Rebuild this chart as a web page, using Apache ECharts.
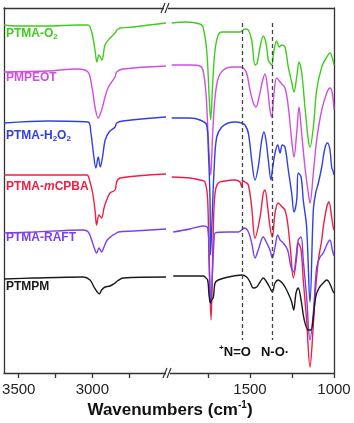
<!DOCTYPE html>
<html>
<head>
<meta charset="utf-8">
<script src="https://cdn.jsdelivr.net/npm/echarts@6/dist/echarts.min.js"></script>
<style>
  html, body { margin: 0; padding: 0; background: #fff; }
  #chart { width: 354px; height: 423px; }
</style>
</head>
<body>
<div id="chart"></div>
<script>
// offset transmittance (a.u.), curves stacked as in the figure
// high = 3600-2500 cm-1 segment, low = 2000-1000 cm-1 segment
var o2High = [[3600,348],[3520,347],[3300,347],[3100,348],[3030,348],[3003,340],[2982,323],[2969,311],[2955,318],[2935,313],[2914,328],[2880,335],[2846,340],[2833,343],[2812,345],[2724,346],[2500,350]];
var o2Low = [[1966,350],[1877,351],[1798,349],[1780,346],[1758,323],[1742,273],[1734,253],[1722,290],[1708,323],[1689,338],[1668,341],[1619,341],[1560,341],[1530,344],[1510,343],[1490,333],[1470,308],[1457,310],[1440,326],[1421,337],[1405,330],[1391,313],[1381,310],[1371,308],[1357,323],[1341,332],[1326,326],[1311,328],[1292,326],[1272,306],[1252,291],[1238,281],[1222,296],[1208,311],[1192,300],[1173,266],[1153,233],[1143,226],[1123,246],[1103,283],[1073,306],[1043,316],[1024,320],[1010,315],[1000,308]];

var pmpeotHigh = [[3600,301],[3300,302],[3100,304],[3030,301],[3003,286],[2982,266],[2960,255],[2937,263],[2914,276],[2894,285],[2869,291],[2846,296],[2835,301],[2792,304],[2500,307]];
var pmpeotLow = [[1966,308],[1857,308],[1798,307],[1780,303],[1762,280],[1748,233],[1734,198],[1722,240],[1708,276],[1689,295],[1659,303],[1609,306],[1560,306],[1540,305],[1520,300],[1500,283],[1480,270],[1464,266],[1450,273],[1424,293],[1411,299],[1396,286],[1381,263],[1371,256],[1357,280],[1341,295],[1321,291],[1292,285],[1272,266],[1252,233],[1238,216],[1222,240],[1208,266],[1196,246],[1173,206],[1153,180],[1143,170],[1123,200],[1103,233],[1073,263],[1043,280],[1024,285],[1010,280],[1000,263]];

var h2o2High = [[3600,250],[3300,252],[3030,251],[3010,240],[2993,220],[2976,205],[2960,216],[2946,206],[2931,216],[2913,233],[2886,241],[2846,246],[2835,250],[2792,252],[2500,256]];
var h2o2Low = [[1966,255],[1857,255],[1798,253],[1758,248],[1748,223],[1738,173],[1735,118],[1726,153],[1713,206],[1698,236],[1668,246],[1629,250],[1589,251],[1549,250],[1530,248],[1510,240],[1490,213],[1470,193],[1451,206],[1430,233],[1417,241],[1405,233],[1391,213],[1375,193],[1367,203],[1351,220],[1335,228],[1321,220],[1308,228],[1292,226],[1272,203],[1252,180],[1238,161],[1222,173],[1213,200],[1196,196],[1183,173],[1163,146],[1143,71],[1123,163],[1109,180],[1093,190],[1073,206],[1054,225],[1038,230],[1024,223],[1014,206],[1004,201],[1000,198]];

var mcpbaHigh = [[3600,198],[3400,198],[3039,198],[3016,191],[2998,180],[2982,163],[2971,148],[2955,158],[2937,155],[2921,165],[2903,173],[2880,180],[2846,183],[2835,191],[2812,195],[2500,199]];
var mcpbaLow = [[1966,196],[1857,195],[1798,193],[1768,191],[1752,173],[1744,113],[1732,53],[1718,146],[1708,180],[1689,190],[1649,192],[1589,193],[1560,191],[1549,186],[1542,192],[1530,191],[1510,188],[1490,166],[1470,135],[1440,156],[1421,180],[1411,183],[1395,166],[1381,146],[1367,136],[1351,160],[1332,170],[1308,166],[1292,163],[1276,150],[1259,123],[1242,95],[1222,116],[1213,130],[1196,123],[1183,93],[1163,53],[1143,6],[1125,43],[1113,76],[1093,113],[1073,133],[1064,146],[1043,166],[1030,171],[1014,156],[1004,145],[1000,143]];

var raftHigh = [[3600,140],[3400,141],[3062,143],[3028,141],[3005,133],[2987,125],[2971,120],[2955,125],[2937,121],[2921,126],[2899,133],[2869,137],[2846,139],[2824,141],[2722,142],[2500,144]];
var raftLow = [[1957,141],[1857,144],[1778,147],[1752,145],[1744,123],[1734,68],[1723,103],[1714,133],[1708,140],[1629,141],[1570,141],[1549,143],[1536,145],[1512,142],[1490,130],[1470,115],[1451,123],[1421,136],[1401,130],[1381,123],[1367,115],[1351,126],[1335,138],[1321,133],[1302,130],[1276,123],[1256,106],[1240,101],[1226,116],[1213,133],[1196,136],[1183,113],[1163,76],[1143,33],[1123,60],[1103,106],[1083,116],[1064,120],[1038,130],[1024,133],[1010,123],[1000,117]];

var ptmpmHigh = [[3600,94],[3400,95],[3062,96],[3016,93],[2989,86],[2967,81],[2953,79],[2937,83],[2914,86],[2880,87],[2846,90],[2831,92],[2790,95],[2500,96]];
var ptmpmLow = [[1957,97],[1778,97],[1768,96],[1752,93],[1744,78],[1735,70],[1728,73],[1718,76],[1708,90],[1689,93],[1629,96],[1549,98],[1520,96],[1500,91],[1480,85],[1460,86],[1440,91],[1421,95],[1401,91],[1381,85],[1367,81],[1351,90],[1332,93],[1308,90],[1288,85],[1268,78],[1252,71],[1240,63],[1226,80],[1213,85],[1196,73],[1177,53],[1153,43],[1137,43],[1123,56],[1109,76],[1089,85],[1064,90],[1043,93],[1030,91],[1014,85],[1004,81],[1000,80]];

var highTicks = [2750, 3000, 3250, 3500];
var highLabels = [3000, 3500];
var lowTicks = [1000, 1250, 1500, 1750];
var lowLabels = [1000, 1500];
var markerWn = [1549, 1367];

var names = ['PTMA-O2', 'PMPEOT', 'PTMA-H2O2', 'PTMA-mCPBA', 'PTMA-RAFT', 'PTMPM'];
var colors = ['#3fcc1f', '#cf4fdf', '#3040e0', '#ee1f45', '#7a3ff0', '#1a1a1a'];
var highData = [o2High, pmpeotHigh, h2o2High, mcpbaHigh, raftHigh, ptmpmHigh];
var lowData = [o2Low, pmpeotLow, h2o2Low, mcpbaLow, raftLow, ptmpmLow];

var chart = echarts.init(document.getElementById('chart'));
var axisColor = '#333';
var font = '"Liberation Sans", Arial, sans-serif';

function xAxisFor(grid, min, max, ticks, labels, pos){
    var top = pos == 'top';
    return {
        gridIndex: grid, type: 'value', min: min, max: max, inverse: true, position: pos,
        axisLine: {show: true, onZero: false, lineStyle: {color: axisColor, width: 1.3}},
        axisTick: top ? {show: false} : {show: true, length: 5, customValues: ticks, lineStyle: {color: axisColor, width: 1.3}},
        axisLabel: top ? {show: false} : {show: true, customValues: labels, margin: 9, color: '#222', fontSize: 15, fontFamily: font,
            formatter: function(v){ return String(v); }},
        splitLine: {show: false}
    };
}
function yAxisFor(grid, pos){
    return {
        gridIndex: grid, type: 'value', min: 0, max: 365, position: pos,
        axisLine: {show: true, onZero: false, lineStyle: {color: axisColor, width: 1.3}},
        axisTick: {show: false}, axisLabel: {show: false}, splitLine: {show: false}
    };
}

var series = [];
for (var i = 0; i < names.length; i++) {
    series.push({
        name: names[i], type: 'line', xAxisIndex: 0, yAxisIndex: 0, data: highData[i],
        showSymbol: false, smooth: 0.35, lineStyle: {color: colors[i], width: 1.4}, itemStyle: {color: colors[i]}
    });
    var s = {
        name: names[i], type: 'line', xAxisIndex: 1, yAxisIndex: 1, data: lowData[i],
        showSymbol: false, smooth: 0.35, lineStyle: {color: colors[i], width: 1.4}, itemStyle: {color: colors[i]}
    };
    if (i == names.length - 1) {
        s.markLine = {
            silent: true, symbol: ['none', 'none'], label: {show: false},
            lineStyle: {type: [4, 3], color: '#444', width: 1.3},
            data: markerWn.map(function(w){ return [{coord: [w, 350]}, {coord: [w, 33]}]; })
        };
    }
    series.push(s);
}

// sample labels (rich text for sub/italic)
var bold = {fontSize: 12, fontWeight: 'bold', fontFamily: font};
function richFor(c){
    return {
        b: Object.assign({fill: c, lineHeight: 14}, bold),
        i: Object.assign({fill: c, lineHeight: 14, fontStyle: 'italic'}, bold),
        s: {fill: c, fontSize: 8, fontWeight: 'bold', fontFamily: font, lineHeight: 14, padding: [7, 0, 0, 0]}
    };
}
var labelTexts = ['{b|PTMA-O}{s|2}', '{b|PMPEOT}', '{b|PTMA-H}{s|2}{b|O}{s|2}', '{b|PTMA-}{i|m}{b|CPBA}', '{b|PTMA-RAFT}', '{b|PTMPM}'];
var labelY = [34, 80, 136, 189, 240, 289];
var graphics = [];
for (var k = 0; k < names.length; k++) {
    graphics.push({type: 'text', left: 6, top: labelY[k] - 8, z: 100,
        style: {text: labelTexts[k], rich: richFor(colors[k])}});
}
graphics.push({type: 'text', x: 235, y: 352, z: 100,
    style: {text: '{s|+}{b|N=O}', align: 'center', verticalAlign: 'middle',
        rich: {b: {fontSize: 13, fontWeight: 'bold', fontFamily: font, fill: '#111'},
               s: {fontSize: 8, fontWeight: 'bold', fontFamily: font, fill: '#111', padding: [0, 0, 8, 0]}}}});
graphics.push({type: 'text', x: 275, y: 352, z: 100,
    style: {text: 'N-O·', align: 'center', verticalAlign: 'middle', font: 'bold 13px ' + font, fill: '#111'}});
graphics.push({type: 'text', x: 170, y: 410, z: 100,
    style: {text: '{b|Wavenumbers (cm}{s|-1}{b|)}', align: 'center', verticalAlign: 'middle',
        rich: {b: {fontSize: 17, fontWeight: 'bold', fontFamily: font, fill: '#111'},
               s: {fontSize: 10, fontWeight: 'bold', fontFamily: font, fill: '#111', padding: [0, 0, 9, 0]}}}});
// axis break marks
[[166, 8], [168, 373]].forEach(function(p){
    graphics.push({type: 'rect', z: 100, shape: {x: p[0] - 2, y: p[1] - 2, width: 4, height: 4}, style: {fill: '#fff'}});
    graphics.push({type: 'line', z: 101, shape: {x1: p[0] - 5, y1: p[1] + 5, x2: p[0] - 1, y2: p[1] - 5}, style: {stroke: axisColor, lineWidth: 1.2}});
    graphics.push({type: 'line', z: 101, shape: {x1: p[0] - 1, y1: p[1] + 5, x2: p[0] + 3, y2: p[1] - 5}, style: {stroke: axisColor, lineWidth: 1.2}});
});

var option = {
    animation: false,
    backgroundColor: '#fff',
    grid: [
        {left: 4, top: 8, width: 162, height: 365, containLabel: false, outerBoundsMode: 'none'},
        {left: 166, top: 8, width: 168, height: 365, containLabel: false, outerBoundsMode: 'none'}
    ],
    xAxis: [
        xAxisFor(0, 2500, 3600, highTicks, highLabels, 'bottom'),
        xAxisFor(1, 1000, 2000, lowTicks, lowLabels, 'bottom'),
        xAxisFor(0, 2500, 3600, highTicks, highLabels, 'top'),
        xAxisFor(1, 1000, 2000, lowTicks, lowLabels, 'top')
    ],
    yAxis: [yAxisFor(0, 'left'), yAxisFor(1, 'right')],
    series: series,
    graphic: graphics
};
chart.setOption(option);
</script>
</body>
</html>
